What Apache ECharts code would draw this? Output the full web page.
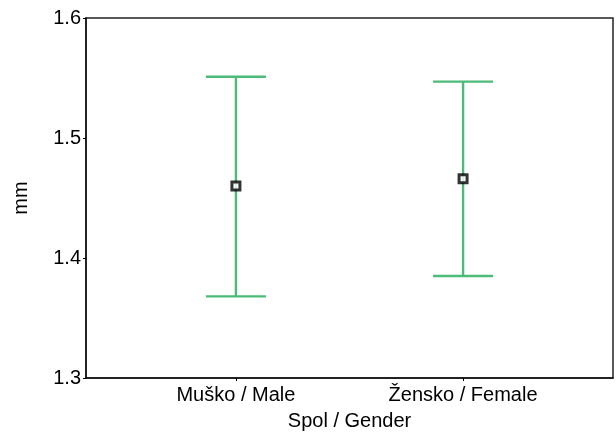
<!DOCTYPE html>
<html>
<head>
<meta charset="utf-8">
<script src="https://cdn.jsdelivr.net/npm/echarts@6/dist/echarts.min.js"></script>
<style>
  html, body { margin: 0; padding: 0; background: #fff; }
  #chart { width: 616px; height: 436px; }
</style>
</head>
<body>
<div id="chart"></div>
<script>
// Mean thickness (mm) with interval bounds, by gender
const categories = ['Muško / Male', 'Žensko / Female'];
const means = [1.460, 1.466];
const lower = [1.368, 1.385];
const upper = [1.551, 1.547];
const yTicks = [1.3, 1.4, 1.5, 1.6];

const FONT = 'Liberation Sans';
const FS = 20;
const GREEN = '#4cbb77';

const barData = categories.map((c, i) => [i + 1, lower[i], upper[i]]);
const meanData = categories.map((c, i) => [i + 1, means[i]]);

const chart = echarts.init(document.getElementById('chart'), null, { renderer: 'canvas' });
chart.setOption({
  animation: false,
  backgroundColor: '#ffffff',
  textStyle: { fontFamily: FONT, color: '#000' },
  grid: {
    left: 86, right: 3, top: 18, bottom: 56,
    show: true, borderColor: '#222', borderWidth: 1.5, backgroundColor: 'transparent'
  },
  xAxis: {
    type: 'value',
    min: 0.34, max: 2.66,
    name: 'Spol / Gender',
    nameLocation: 'middle',
    nameGap: 33,
    nameTextStyle: { fontFamily: FONT, fontSize: FS, color: '#000' },
    axisLine: { show: true, lineStyle: { color: '#111', width: 1.5 } },
    axisTick: { show: true, length: 3, lineStyle: { color: '#000' }, customValues: [1, 2] },
    axisLabel: {
      fontFamily: FONT, fontSize: FS, color: '#000', margin: 7,
      customValues: [1, 2],
      formatter: v => categories[Math.round(v) - 1] || ''
    },
    splitLine: { show: false }
  },
  yAxis: {
    type: 'value',
    min: yTicks[0], max: yTicks[yTicks.length - 1], interval: 0.1,
    name: 'mm',
    nameLocation: 'middle',
    nameGap: 55,
    nameTextStyle: { fontFamily: FONT, fontSize: FS, color: '#000' },
    axisLine: { show: true, lineStyle: { color: '#111', width: 1.5 } },
    axisTick: { show: true, length: 3, lineStyle: { color: '#000' } },
    axisLabel: {
      fontFamily: FONT, fontSize: FS, color: '#000', margin: 5,
      formatter: v => v.toFixed(1)
    },
    splitLine: { show: false }
  },
  series: [
    {
      type: 'custom',
      data: barData,
      encode: { x: 0, y: [1, 2] },
      renderItem: (params, api) => {
        const x = api.value(0);
        const lo = api.coord([x, api.value(1)]);
        const hi = api.coord([x, api.value(2)]);
        const half = 30;
        const style = { stroke: GREEN, lineWidth: 2.4, fill: null };
        return {
          type: 'group',
          children: [
            { type: 'line', shape: { x1: lo[0], y1: lo[1], x2: hi[0], y2: hi[1] }, style },
            { type: 'line', shape: { x1: hi[0] - half, y1: hi[1], x2: hi[0] + half, y2: hi[1] }, style },
            { type: 'line', shape: { x1: lo[0] - half, y1: lo[1], x2: lo[0] + half, y2: lo[1] }, style }
          ]
        };
      },
      z: 2
    },
    {
      type: 'scatter',
      data: meanData,
      symbol: 'rect',
      symbolSize: 8,
      itemStyle: { color: '#fff', borderColor: '#000', borderWidth: 3 },
      z: 3
    }
  ]
});
</script>
</body>
</html>
